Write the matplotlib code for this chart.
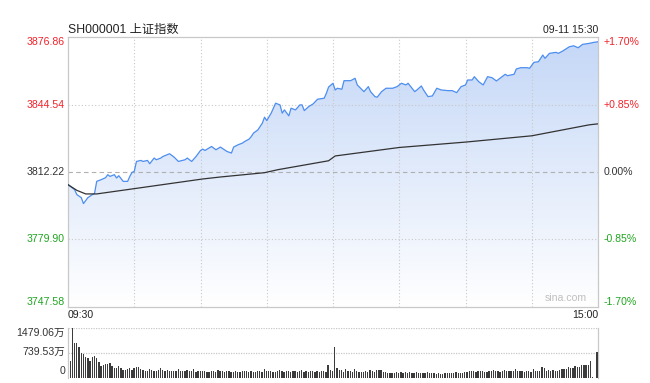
import numpy as np
import matplotlib
matplotlib.use("Agg")
import matplotlib.pyplot as plt
from matplotlib.patches import Polygon
from matplotlib.colors import LinearSegmentedColormap

plt.rcParams["font.family"] = ["Liberation Sans", "Noto Sans CJK SC", "DejaVu Sans"]

# 分时价格 (minute index from 09:30, price)
price_min = [0, 3, 4, 6, 7, 9, 11, 12, 13, 15, 17, 18, 19, 21, 22, 23, 25, 27, 28, 29,
             30, 31, 33, 34, 36, 37, 39, 40, 42, 43, 46, 48, 50, 53, 54, 56, 58, 60, 61, 62,
             65, 67, 69, 72, 74, 75, 77, 79, 80, 82, 83, 84, 86, 88, 89, 90, 92, 93, 94, 96,
             97, 98, 100, 101, 103, 105, 106, 107, 109, 111, 113, 116, 117, 118, 120, 121, 122, 124, 125, 128,
             130, 131, 134, 136, 137, 139, 140, 142, 144, 147, 149, 151, 153, 154, 157, 158, 160, 161, 163, 165,
             167, 169, 172, 174, 176, 178, 180, 181, 183, 184, 186, 188, 190, 192, 194, 196, 198, 199, 202, 203,
             205, 208, 209, 211, 213, 214, 215, 216, 218, 221, 222, 224, 227, 229, 231, 233, 236, 238, 240]
price_val = [3806.16, 3803.77, 3801.38, 3799.95, 3797.09, 3799.95, 3801.38, 3801.86, 3807.73, 3808.54,
             3809.50, 3810.93, 3810.12, 3810.93, 3809.36, 3810.45, 3807.73, 3807.73, 3810.12, 3812.03,
             3812.51, 3817.28, 3817.76, 3817.28, 3817.76, 3816.18, 3818.90, 3818.09, 3818.90, 3819.67,
             3820.96, 3819.38, 3817.28, 3818.09, 3818.90, 3817.28, 3819.67, 3822.53, 3823.20, 3822.53,
             3824.44, 3822.87, 3824.16, 3822.05, 3821.29, 3824.16, 3825.25, 3826.06, 3826.83, 3827.97,
             3829.22, 3830.84, 3832.41, 3835.61, 3838.48, 3836.85, 3840.39, 3842.77, 3845.16, 3844.35,
             3840.39, 3841.96, 3839.10, 3842.77, 3841.96, 3844.35, 3844.35, 3841.63, 3843.54, 3844.83,
             3847.07, 3847.55, 3849.93, 3852.90, 3854.71, 3851.51, 3852.32, 3851.84, 3855.95, 3855.95,
             3857.10, 3853.90, 3850.70, 3853.09, 3850.70, 3848.31, 3848.03, 3850.70, 3852.32, 3852.32,
             3853.09, 3854.71, 3853.90, 3854.71, 3850.70, 3851.51, 3853.42, 3851.51, 3848.31, 3848.65,
             3852.32, 3851.51, 3851.18, 3851.18, 3850.22, 3853.09, 3853.90, 3856.28, 3856.28, 3857.86,
             3855.47, 3853.90, 3857.86, 3857.38, 3855.81, 3857.38, 3859.01, 3858.34, 3859.01, 3861.54,
             3862.16, 3862.16, 3861.87, 3864.73, 3865.02, 3866.64, 3868.22, 3866.64, 3869.03, 3869.51,
             3869.03, 3870.13, 3872.18, 3872.66, 3871.70, 3873.33, 3873.80, 3874.28, 3874.57]

# 均价线
avg_min = [0, 4, 8, 13, 30, 61, 69, 89, 95, 118, 121, 150, 180, 210, 236, 240]
avg_val = [3806.16, 3803.44, 3801.72, 3801.72, 3804.25, 3808.88, 3809.83, 3811.89, 3813.32,
           3817.60, 3819.90, 3823.96, 3826.54, 3829.55, 3834.80, 3835.28]

# 成交量 (万), minutes 1..240
volume = [513, 1479, 1025, 1045, 907, 740, 710, 611, 582, 513,
          611, 661, 582, 483, 365, 385, 404, 404, 454, 365,
          306, 306, 365, 296, 247, 247, 266, 286, 247, 306,
          325, 325, 256, 247, 207, 217, 266, 237, 217, 197,
          237, 296, 237, 217, 247, 197, 217, 217, 217, 276,
          217, 207, 207, 227, 197, 207, 256, 187, 197, 207,
          197, 217, 187, 178, 207, 197, 187, 227, 207, 197,
          178, 217, 197, 187, 168, 207, 178, 187, 197, 217,
          197, 187, 217, 178, 187, 207, 197, 178, 256, 207,
          197, 217, 187, 178, 197, 227, 207, 187, 217, 197,
          187, 217, 197, 178, 207, 227, 187, 197, 168, 207,
          197, 187, 207, 178, 197, 217, 187, 394, 247, 207,
          927, 306, 247, 247, 187, 266, 217, 217, 168, 266,
          197, 168, 178, 168, 197, 168, 227, 207, 178, 247,
          227, 227, 168, 168, 148, 148, 148, 148, 168, 158,
          168, 148, 178, 158, 168, 138, 158, 168, 148, 148,
          148, 148, 168, 148, 138, 158, 128, 148, 128, 128,
          138, 158, 148, 158, 158, 178, 158, 158, 148, 168,
          178, 207, 207, 197, 178, 207, 197, 217, 187, 187,
          207, 197, 227, 207, 207, 187, 197, 227, 207, 197,
          217, 207, 276, 217, 197, 217, 187, 207, 197, 178,
          256, 197, 197, 217, 335, 296, 207, 237, 207, 237,
          217, 217, 237, 266, 266, 256, 335, 296, 296, 365,
          335, 325, 394, 374, 394, 394, 513, 30, 0, 779]

y_ticks = [3747.58, 3779.90, 3812.22, 3844.54, 3876.86]
pct_labels = ["-1.70%", "-0.85%", "0.00%", "+0.85%", "+1.70%"]
vol_max = 1479.06

RED = "#f2222a"
GREEN = "#1fa51f"
DARK = "#333333"
GRID = "#c8c8c8"

W, H = 650, 383
fig = plt.figure(figsize=(6.5, 3.83), dpi=100)

def fx(px):
    return px / W

def fy(py):
    return 1 - py / H

ax = fig.add_axes([fx(68), fy(307), fx(530), (307 - 37) / H])
axv = fig.add_axes([fx(68), fy(378), fx(530), (378 - 328) / H])

ylo, yhi = y_ticks[0], y_ticks[-1]

# 渐变填充
cmap = LinearSegmentedColormap.from_list("fill", ["#ffffff", "#c4d7f7"])
grad = np.linspace(1, 0, 256).reshape(-1, 1)
im = ax.imshow(grad, extent=[0, 240, ylo, yhi], aspect="auto", cmap=cmap,
               origin="upper", zorder=1)
verts = list(zip(price_min, price_val)) + [(price_min[-1], ylo), (price_min[0], ylo)]
poly = Polygon(verts, closed=True, facecolor="none", edgecolor="none", transform=ax.transData)
ax.add_patch(poly)
im.set_clip_path(poly)

ax.plot(price_min, price_val, color="#4d8ef0", lw=0.9, zorder=3)
ax.plot(avg_min, avg_val, color=DARK, lw=0.9, zorder=3)

for m in range(30, 240, 30):
    ax.axvline(m, color=GRID, lw=0.8, ls=(0, (1, 2)), zorder=2)
for v in (y_ticks[1], y_ticks[3]):
    ax.axhline(v, color=GRID, lw=0.8, ls=(0, (1, 2)), zorder=2)
ax.axhline(y_ticks[2], color="#b0b0b0", lw=0.8, ls=(0, (4, 3)), zorder=2)

ax.set_xlim(0, 240)
ax.set_ylim(ylo, yhi)
ax.set_xticks([])
ax.set_yticks([])
for s in ax.spines.values():
    s.set_color(GRID)
    s.set_linewidth(0.9)

colors = [GREEN, GREEN, DARK, RED, RED]
vas = ["bottom", "center", "center", "center", "top"]
for v, lab, c, va in zip(y_ticks, pct_labels, colors, vas):
    ax.text(-0.006, v, f"{v:.2f}", transform=ax.get_yaxis_transform(),
            ha="right", va=va, color=c, fontsize=7.6)
    ax.text(1.01, v, lab, transform=ax.get_yaxis_transform(),
            ha="left", va=va, color=c, fontsize=7.6)

ax.text(0.94, 0.015, "sina.com", transform=ax.transAxes, ha="center", va="bottom",
        color="#c0c0c0", fontsize=7.6)

fig.text(fx(68), fy(30), "SH000001 上证指数", ha="left", va="center", fontsize=8.8, color="#222222")
fig.text(fx(598), fy(30), "09-11 15:30", ha="right", va="center", fontsize=7.6, color="#222222")
fig.text(fx(68), fy(315), "09:30", ha="left", va="center", fontsize=7.6, color="#222222")
fig.text(fx(598), fy(315), "15:00", ha="right", va="center", fontsize=7.6, color="#222222")

# 成交量
vx = np.arange(1, len(volume) + 1)
axv.bar(vx, volume, width=0.6, color="#3c3c3c", zorder=3)
axv.set_xlim(0, 240.4)
axv.set_ylim(0, vol_max)
axv.set_xticks([])
axv.set_yticks([])
axv.axhline(vol_max, color=GRID, lw=0.9, ls=(0, (1, 1)), zorder=1)
axv.axhline(vol_max / 2, color=GRID, lw=0.9, ls=(0, (1, 1)), zorder=1)
axv.spines["top"].set_visible(False)
axv.spines["bottom"].set_visible(False)
for k in ("left", "right"):
    axv.spines[k].set_color(GRID)
    axv.spines[k].set_linewidth(0.9)

fig.text(fx(65), fy(333), "1479.06万", ha="right", va="center", fontsize=7.6, color=DARK)
fig.text(fx(65), fy(352), "739.53万", ha="right", va="center", fontsize=7.6, color=DARK)
fig.text(fx(65), fy(371), "0", ha="right", va="center", fontsize=7.6, color=DARK)

fig.savefig("out.png", dpi=100)
